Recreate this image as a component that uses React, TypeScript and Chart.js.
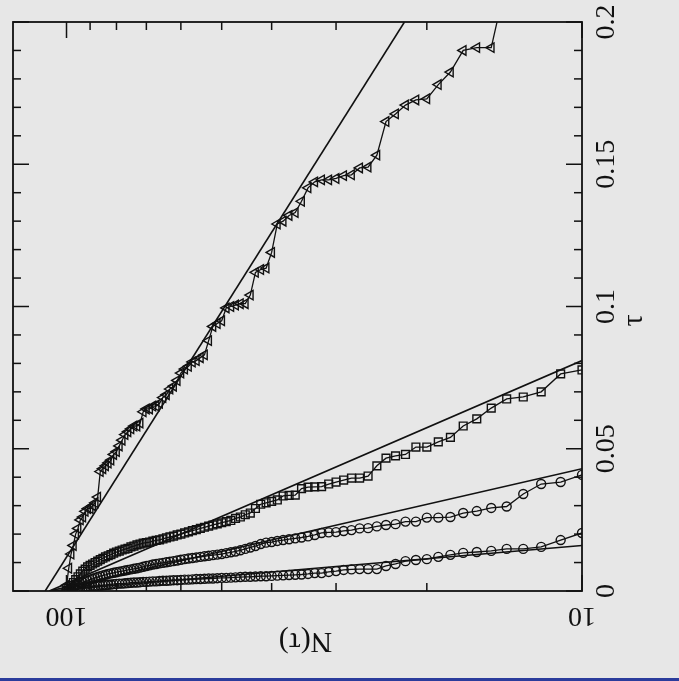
import React, { useEffect, useRef } from "react";
import { Chart, registerables } from "chart.js";

Chart.register(...registerables);

// N(tau) counts, shared by all series (100 down to 10)
const N_COUNTS = [
  100, 99, 98, 97, 96, 95, 94, 93, 92, 91,
  90, 89, 88, 87, 86, 85, 84, 83, 82, 81,
  80, 79, 78, 77, 76, 75, 74, 73, 72, 71,
  70, 69, 68, 67, 66, 65, 64, 63, 62, 61,
  60, 59, 58, 57, 56, 55, 54, 53, 52, 51,
  50, 49, 48, 47, 46, 45, 44, 43, 42, 41,
  40, 39, 38, 37, 36, 35, 34, 33, 32, 31,
  30, 29, 28, 27, 26, 25, 24, 23, 22, 21,
  20, 19, 18, 17, 16, 15, 14, 13, 12, 11,
  10,
];

// tau values, triangles (N = 100 .. 14)
const TAU_TRIANGLE = [
  0.002, 0.008, 0.013, 0.016, 0.020, 0.022, 0.025, 0.026, 0.028, 0.029,
  0.029, 0.030, 0.031, 0.033, 0.042, 0.043, 0.044, 0.045, 0.046, 0.048,
  0.049, 0.051, 0.053, 0.055, 0.056, 0.057, 0.058, 0.058, 0.059, 0.063,
  0.064, 0.064, 0.065, 0.065, 0.066, 0.068, 0.069, 0.071, 0.072, 0.074,
  0.0766, 0.078, 0.079, 0.0805, 0.081, 0.082, 0.083, 0.088, 0.093, 0.094,
  0.095, 0.0995, 0.100, 0.1005, 0.101, 0.101, 0.104, 0.112, 0.113, 0.1135,
  0.119, 0.129, 0.130, 0.132, 0.133, 0.137, 0.1417, 0.1438, 0.1445, 0.1445,
  0.145, 0.146, 0.1463, 0.1487, 0.149, 0.1532, 0.165, 0.1677, 0.1708, 0.1726,
  0.173, 0.178, 0.1824, 0.190, 0.191, 0.191, 0.215,
];

// tau values, squares (N = 100 .. 10)
const TAU_SQUARE = [
  0.000, 0.001, 0.002, 0.003, 0.004, 0.005, 0.006, 0.007, 0.0077, 0.0085,
  0.009, 0.0095, 0.010, 0.0105, 0.011, 0.0115, 0.012, 0.0124, 0.0128, 0.0133,
  0.0137, 0.014, 0.0144, 0.0147, 0.015, 0.0155, 0.0158, 0.0162, 0.0165, 0.0168,
  0.017, 0.0172, 0.0175, 0.0178, 0.018, 0.0183, 0.0187, 0.019, 0.0193, 0.0197,
  0.020, 0.0204, 0.0208, 0.0212, 0.0216, 0.022, 0.0224, 0.0228, 0.0232, 0.0236,
  0.024, 0.0244, 0.0248, 0.0255, 0.026, 0.0268, 0.0274, 0.029, 0.0305, 0.031,
  0.0315, 0.032, 0.0334, 0.0336, 0.0337, 0.036, 0.0365, 0.0366, 0.0367, 0.0376,
  0.0383, 0.039, 0.0397, 0.0397, 0.0404, 0.044, 0.0467, 0.0475, 0.048, 0.0506,
  0.0506, 0.0524, 0.054, 0.058, 0.0605, 0.0643, 0.0675, 0.0682, 0.070, 0.0763,
  0.0777,
];

// tau values, upper circles (N = 100 .. 10)
const TAU_CIRCLE_UPPER = [
  0.000, 0.0005, 0.001, 0.0015, 0.002, 0.0023, 0.0027, 0.003, 0.0033, 0.0036,
  0.004, 0.0043, 0.0046, 0.0049, 0.0052, 0.0055, 0.0057, 0.006, 0.0062, 0.0064,
  0.0066, 0.0068, 0.007, 0.0072, 0.0074, 0.0076, 0.0078, 0.008, 0.0082, 0.0085,
  0.0088, 0.009, 0.0093, 0.0095, 0.0097, 0.0099, 0.0101, 0.0103, 0.0105, 0.0107,
  0.011, 0.0112, 0.0114, 0.0116, 0.0118, 0.012, 0.0122, 0.0124, 0.0126, 0.0128,
  0.013, 0.0133, 0.0136, 0.0139, 0.0143, 0.0148, 0.0153, 0.0158, 0.0165, 0.017,
  0.0172, 0.0176, 0.0179, 0.0182, 0.0185, 0.0188, 0.0192, 0.0197, 0.0204, 0.0206,
  0.0207, 0.0211, 0.0214, 0.022, 0.0221, 0.0227, 0.0232, 0.0235, 0.0244, 0.0244,
  0.0258, 0.0258, 0.026, 0.0274, 0.0281, 0.0292, 0.0297, 0.0341, 0.0376, 0.0383,
  0.0408,
];

// tau values, lower circles (N = 100 .. 10)
const TAU_CIRCLE_LOWER = [
  0.000, 0.0002, 0.0004, 0.0006, 0.0008, 0.001, 0.0011, 0.0012, 0.0013, 0.0014,
  0.0015, 0.0016, 0.0017, 0.0018, 0.0019, 0.002, 0.0021, 0.0022, 0.0023, 0.0024,
  0.0025, 0.0026, 0.0026, 0.0027, 0.0028, 0.0029, 0.003, 0.003, 0.0031, 0.0032,
  0.0032, 0.0033, 0.0034, 0.0034, 0.0035, 0.0036, 0.0036, 0.0037, 0.0038, 0.0038,
  0.0039, 0.004, 0.004, 0.0041, 0.0042, 0.0042, 0.0043, 0.0044, 0.0044, 0.0045,
  0.0046, 0.0046, 0.0047, 0.0048, 0.0049, 0.005, 0.005, 0.0051, 0.0052, 0.0052,
  0.0053, 0.0054, 0.0055, 0.0056, 0.0057, 0.0058, 0.006, 0.0063, 0.0063, 0.0067,
  0.007, 0.0074, 0.0076, 0.0077, 0.0077, 0.0077, 0.0088, 0.0095, 0.0105, 0.0109,
  0.0112, 0.012, 0.0127, 0.0134, 0.0137, 0.0141, 0.0148, 0.0148, 0.0155, 0.0179,
  0.0204,
];

// straight-line fits: start (tau=0) and end points
const FIT_N_START = [110, 108, 108, 108];
const FIT_N_END = [22.1, 10, 10, 10];
const FIT_TAU_END = [0.2, 0.081, 0.043, 0.016];

// axis ticks
const N_MAJOR_TICKS = [10, 100];
const N_MINOR_TICKS = [20, 30, 40, 50, 60, 70, 80, 90];
const N_TICK_LABELS = ["10", "100"];
const TAU_MAJOR_TICKS = [0, 0.05, 0.1, 0.15, 0.2];
const TAU_TICK_LABELS = ["0", "0.05", "0.1", "0.15", "0.2"];
const TAU_MINOR_TICKS = [
  0.01, 0.02, 0.03, 0.04, 0.06, 0.07, 0.08, 0.09, 0.11, 0.12,
  0.13, 0.14, 0.16, 0.17, 0.18, 0.19,
];
const X_TITLE = "N(\u03c4)";
const Y_TITLE = "\u03c4";

const BG = "rgb(231,231,231)";
const INK = "#111111";
const FONT = '"Liberation Serif", "DejaVu Serif", serif';

function series(tau: number[]) {
  return tau.map((t, i) => ({ x: N_COUNTS[i], y: t }));
}

const framePlugin = {
  id: "frameAxes",
  beforeDraw(chart: any) {
    const ctx = chart.ctx;
    ctx.save();
    ctx.fillStyle = BG;
    ctx.fillRect(0, 0, chart.width, chart.height);
    ctx.fillStyle = "#2b3c9c";
    ctx.fillRect(0, chart.height - 3, chart.width, 3);
    ctx.restore();
  },
  afterDraw(chart: any) {
    const ctx = chart.ctx;
    const { left, right, top, bottom } = chart.chartArea;
    const xs = chart.scales.x;
    const ys = chart.scales.y;
    ctx.save();
    ctx.strokeStyle = INK;
    ctx.lineWidth = 1.8;
    ctx.strokeRect(left, top, right - left, bottom - top);
    ctx.lineWidth = 1.5;
    const tick = (x1: number, y1: number, x2: number, y2: number) => {
      ctx.beginPath();
      ctx.moveTo(x1, y1);
      ctx.lineTo(x2, y2);
      ctx.stroke();
    };
    N_MAJOR_TICKS.forEach((n) => {
      const p = xs.getPixelForValue(n);
      tick(p, bottom, p, bottom - 16);
      tick(p, top, p, top + 16);
    });
    N_MINOR_TICKS.forEach((n) => {
      const p = xs.getPixelForValue(n);
      tick(p, bottom, p, bottom - 8);
      tick(p, top, p, top + 8);
    });
    TAU_MAJOR_TICKS.forEach((v) => {
      const p = ys.getPixelForValue(v);
      tick(left, p, left + 16, p);
      tick(right, p, right - 16, p);
    });
    TAU_MINOR_TICKS.forEach((v) => {
      const p = ys.getPixelForValue(v);
      tick(left, p, left + 8, p);
      tick(right, p, right - 8, p);
    });

    ctx.fillStyle = INK;
    ctx.textAlign = "center";
    ctx.textBaseline = "middle";
    ctx.font = `28px ${FONT}`;
    N_MAJOR_TICKS.forEach((n, i) => {
      const p = xs.getPixelForValue(n);
      ctx.save();
      ctx.translate(p, bottom + 24);
      ctx.rotate(Math.PI);
      ctx.fillText(N_TICK_LABELS[i], 0, 0);
      ctx.restore();
    });
    TAU_MAJOR_TICKS.forEach((v, i) => {
      const p = ys.getPixelForValue(v);
      ctx.save();
      ctx.translate(right + 25, p);
      ctx.rotate(-Math.PI / 2);
      ctx.fillText(TAU_TICK_LABELS[i], 0, 0);
      ctx.restore();
    });
    ctx.font = `30px ${FONT}`;
    ctx.save();
    ctx.translate((left + right) / 2 + 8, bottom + 50);
    ctx.rotate(Math.PI);
    ctx.fillText(X_TITLE, 0, 0);
    ctx.restore();
    ctx.save();
    ctx.translate(right + 52, (top + bottom) / 2 + 14);
    ctx.rotate(-Math.PI / 2);
    ctx.fillText(Y_TITLE, 0, 0);
    ctx.restore();
    ctx.restore();
  },
};

export default function App() {
  const canvasRef = useRef<HTMLCanvasElement | null>(null);

  useEffect(() => {
    if (!canvasRef.current) return;
    const markerSet = (style: string, radius: number, rotation = 0) => ({
      borderColor: INK,
      borderWidth: 1.3,
      pointStyle: style,
      pointRadius: radius,
      pointRotation: rotation,
      pointBorderColor: INK,
      pointBackgroundColor: "rgba(0,0,0,0)",
      pointBorderWidth: 1.4,
      tension: 0,
      fill: false,
    });
    const fits = FIT_N_START.map((n0, i) => ({
      data: [
        { x: n0, y: 0 },
        { x: FIT_N_END[i], y: FIT_TAU_END[i] },
      ],
      borderColor: INK,
      borderWidth: 1.6,
      pointRadius: 0,
      tension: 0,
      fill: false,
    }));
    const chart = new Chart(canvasRef.current, {
      type: "line",
      data: {
        datasets: [
          ...fits,
          { data: series(TAU_TRIANGLE), ...markerSet("triangle", 5.5, -90) },
          { data: series(TAU_SQUARE), ...markerSet("rect", 5.5) },
          { data: series(TAU_CIRCLE_UPPER), ...markerSet("circle", 4.5) },
          { data: series(TAU_CIRCLE_LOWER), ...markerSet("circle", 4.5) },
        ] as any,
      },
      options: {
        animation: false,
        responsive: false,
        devicePixelRatio: 1,
        layout: { padding: { left: 13, top: 22, right: 97, bottom: 90 } },
        plugins: { legend: { display: false }, tooltip: { enabled: false } },
        scales: {
          x: { type: "logarithmic", min: 10, max: 127, reverse: true, display: false },
          y: { type: "linear", min: 0, max: 0.2, display: false },
        },
      } as any,
      plugins: [framePlugin],
    });
    return () => chart.destroy();
  }, []);

  return (
    <div style={{ position: "fixed", left: 0, top: 0, width: 679, height: 681, background: BG }}>
      <canvas ref={canvasRef} width={679} height={681} style={{ display: "block" }} />
    </div>
  );
}
